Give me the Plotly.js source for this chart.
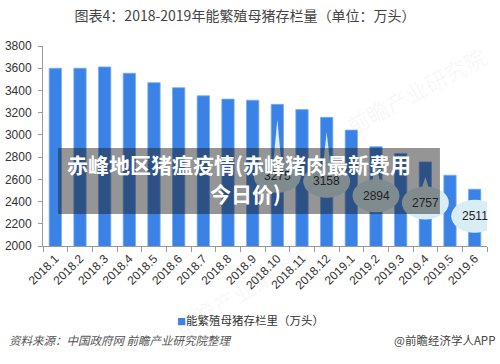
<!DOCTYPE html>
<html>
<head>
<meta charset="utf-8">
<script src="https://cdn.plot.ly/plotly-3.0.1.min.js"></script>
<style>
  html, body { margin: 0; padding: 0; background: #fff; }
  #chart { width: 500px; height: 364px; }
</style>
</head>
<body>
<div id="chart"></div>
<script>
// ---- data ----
var months = ["2018.1","2018.2","2018.3","2018.4","2018.5","2018.6","2018.7","2018.8","2018.9",
              "2018.10","2018.11","2018.12","2019.1","2019.2","2019.3","2019.4","2019.5","2019.6"];
var sowStock = [3600, 3600, 3612, 3555, 3470, 3425, 3352, 3322, 3312,
                3275, 3228, 3158, 3043, 2894, 2833, 2757, 2637, 2511];
var labeledMonths = ["2018.10","2018.12","2019.2","2019.4","2019.6"];
var seriesName = "能繁殖母猪存栏里（万头）";
var titleText = "图表4：2018-2019年能繁殖母猪存栏量（单位：万头）";
var bannerLine1 = "赤峰地区猪瘟疫情(赤峰猪肉最新费用";
var bannerLine2 = "今日价)";
var sourceText = "资料来源：中国政府网 前瞻产业研究院整理";
var brandText = "@前瞻经济学人APP";

// ---- style ----
var FONT = '"Liberation Sans", Arial, "Noto Sans CJK SC", sans-serif';
var CJK = '"Noto Sans CJK SC", "Liberation Sans", sans-serif';
var BAR = '#3b82e6';
var bubbleDrop = [72, 64, 49, 41, 27];   // px below bar top (style)
var bubbleW = 47, bubbleH = 33, tipDrop = 15;

var shapes = [];
var annotations = [];

function note(o) {
  o.showarrow = false;
  if (!o.xanchor) o.xanchor = 'center';
  if (!o.yanchor) o.yanchor = 'middle';
  annotations.push(o);
}

labeledMonths.forEach(function (m, i) {
  var idx = months.indexOf(m);
  var v = sowStock[idx];
  var d = bubbleDrop[i];
  var top = -(d - bubbleH / 2);
  shapes.push({
    type: 'path', layer: 'above', xref: 'x', yref: 'y',
    xsizemode: 'pixel', ysizemode: 'pixel', xanchor: idx, yanchor: v,
    path: 'M -4 ' + (top - 3) + ' L 4 ' + (top - 3) + ' L 0 ' + (-tipDrop) + ' Z',
    fillcolor: '#d9edf4', line: { width: 0 }
  });
  shapes.push({
    type: 'circle', layer: 'above', xref: 'x', yref: 'y',
    xsizemode: 'pixel', ysizemode: 'pixel', xanchor: idx, yanchor: v,
    x0: -bubbleW / 2, x1: bubbleW / 2, y0: -(d + bubbleH / 2), y1: top,
    fillcolor: '#d9edf4', line: { width: 0 }
  });
  note({
    xref: 'x', yref: 'y', x: idx, y: v, yshift: -d,
    text: String(v), font: { family: FONT, size: 12, color: '#222' }
  });
});

// banner overlay
shapes.push({
  type: 'rect', layer: 'above', xref: 'paper', yref: 'paper',
  x0: 0.034, x1: 0.894, y0: 0.16, y1: 0.49,
  fillcolor: 'rgba(25,25,25,0.46)', line: { width: 0 }
});
note({
  xref: 'paper', yref: 'paper', x: 0.441, y: 0.41,
  text: '<b>' + bannerLine1 + '</b>',
  font: { family: CJK, size: 21, color: '#ffffff' }
});
note({
  xref: 'paper', yref: 'paper', x: 0.456, y: 0.265,
  text: '<b>' + bannerLine2 + '</b>',
  font: { family: CJK, size: 21, color: '#ffffff' }
});

// faint watermarks
note({
  xref: 'paper', yref: 'paper', x: 0.84, y: 0.78, textangle: -28,
  text: '前瞻产业研究院', font: { family: CJK, size: 22, color: 'rgba(170,170,170,0.10)' }
});
note({
  xref: 'paper', yref: 'paper', x: 0.45, y: -0.22, textangle: -30,
  text: '前瞻产业研究院', font: { family: CJK, size: 22, color: 'rgba(170,170,170,0.09)' }
});

// legend (manual, small square)
note({
  xref: 'paper', yref: 'paper', x: 0.298, y: -0.37, xanchor: 'left',
  text: '<span style="color:' + BAR + ';font-size:9px">■</span>' + seriesName,
  font: { family: CJK, size: 11.5, color: '#333' }
});

// footer texts
note({
  xref: 'paper', yref: 'paper', x: -0.082, y: -0.47, xanchor: 'left',
  text: '<i>' + sourceText + '</i>', font: { family: CJK, size: 11.5, color: '#555' }
});
note({
  xref: 'paper', yref: 'paper', x: 1.023, y: -0.47, xanchor: 'right',
  text: brandText, font: { family: CJK, size: 11.5, color: '#444' }
});

var trace = {
  type: 'bar', x: months, y: sowStock, name: seriesName,
  marker: { color: BAR, line: { color: '#79adf0', width: 0.8 } },
  hoverinfo: 'x+y'
};

var layout = {
  width: 500, height: 364,
  margin: { l: 43, r: 13, t: 46, b: 118 },
  paper_bgcolor: '#ffffff', plot_bgcolor: '#ffffff',
  title: { text: titleText, x: 0.49, xanchor: 'center', y: 0.955, yanchor: 'middle',
           font: { family: CJK, size: 14, color: '#444' } },
  bargap: 0.5,
  showlegend: false,
  xaxis: {
    type: 'category', range: [-0.5, months.length - 0.5], autorange: false,
    tickangle: -45, showline: true, linecolor: '#999', linewidth: 1,
    ticks: 'outside', tickson: 'boundaries', ticklen: 5, tickcolor: '#999',
    showgrid: false, zeroline: false,
    tickfont: { family: FONT, size: 12, color: '#333' }
  },
  yaxis: {
    range: [2000, 3800], autorange: false, dtick: 200, showline: true, linecolor: '#999', linewidth: 1,
    ticks: 'outside', ticklen: 4, tickcolor: '#999', showgrid: false, zeroline: false,
    ticklabelstandoff: 4,
    tickfont: { family: FONT, size: 12, color: '#333' }
  },
  shapes: shapes,
  annotations: annotations
};

Plotly.newPlot('chart', [trace], layout, { displayModeBar: false, staticPlot: true });
</script>
</body>
</html>
